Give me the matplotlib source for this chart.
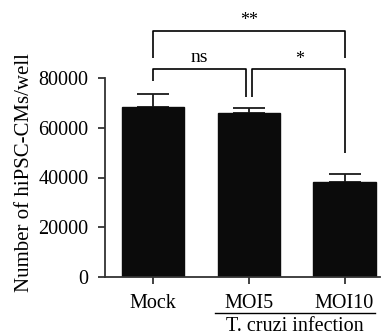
import matplotlib.pyplot as plt

groups = ['Mock', 'MOI5', 'MOI10']
cell_counts = [68200, 66050, 38300]
cell_sem = [5400, 2000, 3100]
# pairwise comparisons: (left bar, right bar, label)
comparisons = [(0, 2, '**'), (0, 1, 'ns'), (1, 2, '*')]
infection_label = 'T. cruzi infection'
y_ticks = [0, 20000, 40000, 60000, 80000]

plt.rcParams['font.family'] = ['Liberation Serif', 'DejaVu Serif']
plt.rcParams['font.size'] = 14.5

W, H = 383, 336
fig = plt.figure(figsize=(W / 100, H / 100), dpi=100)
ax = fig.add_axes([105 / W, 1 - 277 / H, 275 / W, 199 / H])

x = list(range(len(groups)))
ax.bar(x, cell_counts, width=0.65, color='#0b0b0b', edgecolor='#0b0b0b', zorder=2)
ax.errorbar(x, cell_counts, yerr=[[0] * 3, cell_sem], fmt='none', ecolor='#1a1a1a',
            elinewidth=1.3, capsize=11.5, capthick=1.3, zorder=1)

ax.set_xlim(-0.5, 2.37)
ax.set_ylim(0, 80000)
ax.set_yticks(y_ticks)
ax.set_yticklabels([str(t) for t in y_ticks])
ax.set_xticks(x)
ax.set_xticklabels(groups)
for s in ['top', 'right']:
    ax.spines[s].set_visible(False)
for s in ['left', 'bottom']:
    ax.spines[s].set_linewidth(1.3)
    ax.spines[s].set_color('#333333')
ax.tick_params(length=5, width=1.3, color='#333333', pad=7)

# brackets
lw = 1.2
kw = dict(color='black', lw=lw, clip_on=False, solid_capstyle='butt')
ax.plot([0, 0, 2, 2], [88000, 98900, 98900, 88000], **kw)
ax.text(1.0, 101500, comparisons[0][2], ha='center', va='baseline', fontsize=13, clip_on=False)
ax.plot([0, 0, 0.968, 0.968], [78800, 83600, 83600, 72400], **kw)
ax.text(0.48, 86600, comparisons[1][2], ha='center', va='baseline', fontsize=14)
ax.plot([1.032, 1.032, 2, 2], [72400, 83600, 83600, 49800], **kw)
ax.text(1.535, 85800, comparisons[2][2], ha='center', va='baseline', fontsize=13)

# infection group underline
ax.plot([0.647, 2.318], [-14500, -14500], color='black', lw=1.0, clip_on=False)
ax.text(1.483, -21600, infection_label, ha='center', va='baseline')

fig.text(25 / W, 1 - 173 / H, 'Number of hiPSC-CMs/well', rotation=90,
         ha='center', va='center', fontsize=15)

fig.savefig('out.png', dpi=100)
